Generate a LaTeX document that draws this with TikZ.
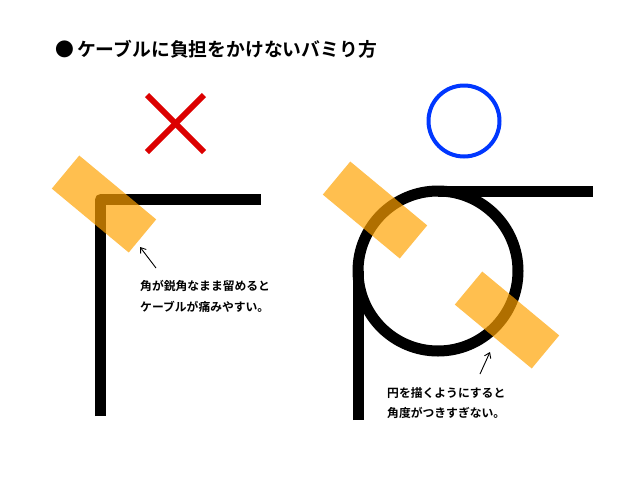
\documentclass[tikz,border=0pt]{standalone}
\usepackage{fontspec}
\setmainfont{Noto Sans CJK JP}[BoldFont={Noto Sans CJK JP Bold}]
\usetikzlibrary{arrows.meta}
\definecolor{tapeorange}{RGB}{255,162,0}
\definecolor{ngred}{RGB}{220,0,0}
\definecolor{okblue}{RGB}{0,55,255}
\tikzset{
  cable/.style={line width=11pt,line join=round},
  tape/.style={fill=tapeorange,fill opacity=0.69,minimum width=100pt,minimum height=43pt,inner sep=0pt,rotate=-39.7},
  note/.style={anchor=west,inner sep=0pt,font=\fontsize{11.8}{14}\bfseries},
  pointer/.style={line width=0.9pt,-{Straight Barb[length=5pt,width=7pt]}}
}
\begin{document}
\begin{tikzpicture}[x=1pt,y=-1pt]
\useasboundingbox (0,0) rectangle (640,480);
\node[anchor=west,inner sep=0pt,font=\fontsize{18.8}{20}\bfseries] (title) at (55,49) {●\,ケーブルに負担をかけないバミり方};
\draw[ngred,line width=6pt] (147,95)--(204,152);
\draw[ngred,line width=6pt] (147,152)--(204,95);
\draw[cable] (100.5,416)--(100.5,199.5)--(261,199.5);
\node[tape] (tapeA) at (104,204) {};
\coordinate (tipA) at (140,247);
\coordinate (tailA) at (156,268);
\draw[pointer] (tailA)--(tipA);
\node[note] (noteA1) at (140,286) {角が鋭角なまま留めると};
\node[note] (noteA2) at (140,307) {ケーブルが痛みやすい。};
\draw[okblue,line width=4pt] (464,121) circle[radius=35.5];
\draw[cable] (438,271) circle[radius=80];
\draw[cable] (358.5,420)--(358.5,271);
\draw[cable] (438,191.5)--(593,191.5);
\node[tape] (tapeB) at (375,210) {};
\node[tape] (tapeC) at (507,320) {};
\coordinate (tipB) at (490,352);
\coordinate (tailB) at (480,374);
\draw[pointer] (tailB)--(tipB);
\node[note] (noteB1) at (387,393) {円を描くようにすると};
\node[note] (noteB2) at (387,413) {角度がつきすぎない。};
\end{tikzpicture}
\end{document}
